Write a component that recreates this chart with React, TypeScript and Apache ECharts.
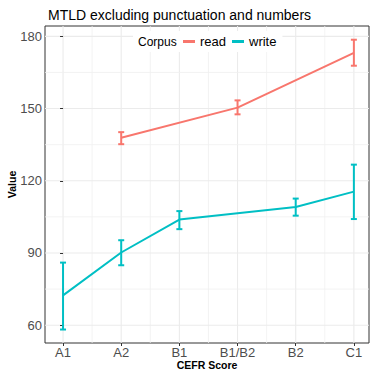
import React, { useEffect, useRef } from "react";
import * as echarts from "echarts";

const categories = ["A1", "A2", "B1", "B1/B2", "B2", "C1"];
const readLevels = ["A2", "B1/B2", "C1"];
const readMean = [137.9, 150.4, 173.1];
const readLow = [135.2, 147.6, 167.8];
const readHigh = [140.2, 153.4, 178.6];
const writeLevels = ["A1", "A2", "B1", "B2", "C1"];
const writeMean = [72.4, 90.2, 103.9, 109.1, 115.5];
const writeLow = [58.2, 84.9, 99.9, 105.5, 104.1];
const writeHigh = [86.0, 95.3, 107.4, 112.6, 126.7];
const yTicks = [60, 90, 120, 150, 180];
const yMinor = [75, 105, 135, 165];
const xMinor = [0.5, 1.5, 2.5, 3.5, 4.5];

const READ_COLOR = "#F8766D";
const WRITE_COLOR = "#00BFC4";
const FONT = "Liberation Sans, Arial, Helvetica, sans-serif";

export default function App() {
  const ref = useRef<HTMLDivElement>(null);
  useEffect(() => {
    if (!ref.current) return;
    const chart = echarts.init(ref.current, null, { renderer: "svg" });
    const xIdx = categories.map((_, i) => i);

    const gridData: number[][] = [
      ...xIdx.map((v) => [v, 100, 0]),
      ...xMinor.map((v) => [v, 100, 1]),
      ...yTicks.map((v) => [0, v, 2]),
      ...yMinor.map((v) => [0, v, 3]),
    ];

    const errRender = (color: string) => (params: any, api: any) => {
      const x = api.value(0);
      const lo = api.coord([x, api.value(1)]);
      const hi = api.coord([x, api.value(2)]);
      const hw = 3;
      const style = { stroke: color, lineWidth: 2 };
      return {
        type: "group",
        children: [
          { type: "line", shape: { x1: lo[0], y1: lo[1], x2: hi[0], y2: hi[1] }, style },
          { type: "line", shape: { x1: lo[0] - hw, y1: lo[1], x2: lo[0] + hw, y2: lo[1] }, style },
          { type: "line", shape: { x1: hi[0] - hw, y1: hi[1], x2: hi[0] + hw, y2: hi[1] }, style },
        ],
      };
    };

    const readIdx = readLevels.map((c) => categories.indexOf(c));
    const writeIdx = writeLevels.map((c) => categories.indexOf(c));

    chart.setOption({
      animation: false,
      textStyle: { fontFamily: FONT },
      title: {
        text: "MTLD excluding punctuation and numbers",
        left: 43,
        top: 3,
        textStyle: { fontSize: 14, fontWeight: "normal", color: "#000", fontFamily: FONT },
      },
      legend: {
        data: ["read", "write"],
        left: 133,
        top: 31,
        orient: "horizontal",
        backgroundColor: "#fff",
        padding: [4, 6, 4, 50],
        itemWidth: 12,
        itemHeight: 3,
        itemGap: 6,
        icon: "rect",
        textStyle: { fontSize: 13, color: "#000", fontFamily: FONT },
      },
      graphic: [
        {
          type: "text",
          left: 138,
          top: 36,
          z: 100,
          style: { text: "Corpus", fontSize: 12, fill: "#000", fontFamily: FONT },
        },
        {
          type: "text",
          x: 207,
          y: 365,
          z: 100,
          style: {
            text: "CEFR Score",
            fontSize: 10.5,
            fontWeight: "bold",
            fill: "#000",
            fontFamily: FONT,
            align: "center",
            verticalAlign: "middle",
          },
        },
        {
          type: "text",
          x: 12,
          y: 184.5,
          rotation: Math.PI / 2,
          z: 100,
          style: {
            text: "Value",
            fontSize: 10.5,
            fontWeight: "bold",
            fill: "#000",
            fontFamily: FONT,
            align: "center",
            verticalAlign: "middle",
          },
        },
      ],
      grid: {
        left: 45,
        right: 1,
        top: 26,
        bottom: 27,
        containLabel: false,
        outerBoundsMode: "none",
        show: true,
        borderColor: "#333",
        borderWidth: 1,
        backgroundColor: "#fff",
      },
      xAxis: {
        type: "value",
        min: -0.31,
        max: 5.26,
        axisLine: { show: false },
        axisTick: { show: true, length: 3, customValues: xIdx, lineStyle: { color: "#333" } },
        axisLabel: {
          customValues: xIdx,
          formatter: (v: number) => categories[Math.round(v)] ?? "",
          color: "#4D4D4D",
          fontSize: 13,
          margin: 3,
          fontFamily: FONT,
        },
        splitLine: { show: false },
      },
      yAxis: {
        type: "value",
        min: 52.6,
        max: 184.3,
        axisLine: { show: false },
        axisTick: { show: true, length: 3, customValues: yTicks, lineStyle: { color: "#333" } },
        axisLabel: {
          customValues: yTicks,
          color: "#4D4D4D",
          fontSize: 13,
          margin: 3,
          fontFamily: FONT,
        },
        splitLine: { show: false },
      },
      series: [
        {
          type: "custom",
          name: "gridlines",
          silent: true,
          z: 0,
          data: gridData,
          renderItem: (params: any, api: any) => {
            const cs = params.coordSys;
            const kind = api.value(2);
            const minor = kind === 1 || kind === 3;
            const style = { stroke: minor ? "#F0F0F0" : "#EBEBEB", lineWidth: minor ? 0.8 : 1.1 };
            if (kind < 2) {
              const x = api.coord([api.value(0), 100])[0];
              return { type: "line", shape: { x1: x, y1: cs.y, x2: x, y2: cs.y + cs.height }, style };
            }
            const y = api.coord([0, api.value(1)])[1];
            return { type: "line", shape: { x1: cs.x, y1: y, x2: cs.x + cs.width, y2: y }, style };
          },
        },
        {
          type: "custom",
          name: "read-err",
          z: 3,
          data: readIdx.map((x, i) => [x, readLow[i], readHigh[i]]),
          renderItem: errRender(READ_COLOR),
        },
        {
          type: "custom",
          name: "write-err",
          z: 3,
          data: writeIdx.map((x, i) => [x, writeLow[i], writeHigh[i]]),
          renderItem: errRender(WRITE_COLOR),
        },
        {
          type: "line",
          name: "read",
          z: 4,
          color: READ_COLOR,
          showSymbol: false,
          symbol: "none",
          lineStyle: { width: 2, color: READ_COLOR },
          data: readIdx.map((x, i) => [x, readMean[i]]),
        },
        {
          type: "line",
          name: "write",
          z: 4,
          color: WRITE_COLOR,
          showSymbol: false,
          symbol: "none",
          lineStyle: { width: 2, color: WRITE_COLOR },
          data: writeIdx.map((x, i) => [x, writeMean[i]]),
        },
      ],
    });
    return () => chart.dispose();
  }, []);
  return (
    <div
      ref={ref}
      style={{ position: "fixed", left: 0, top: 0, width: 370, height: 370, background: "#fff" }}
    />
  );
}
